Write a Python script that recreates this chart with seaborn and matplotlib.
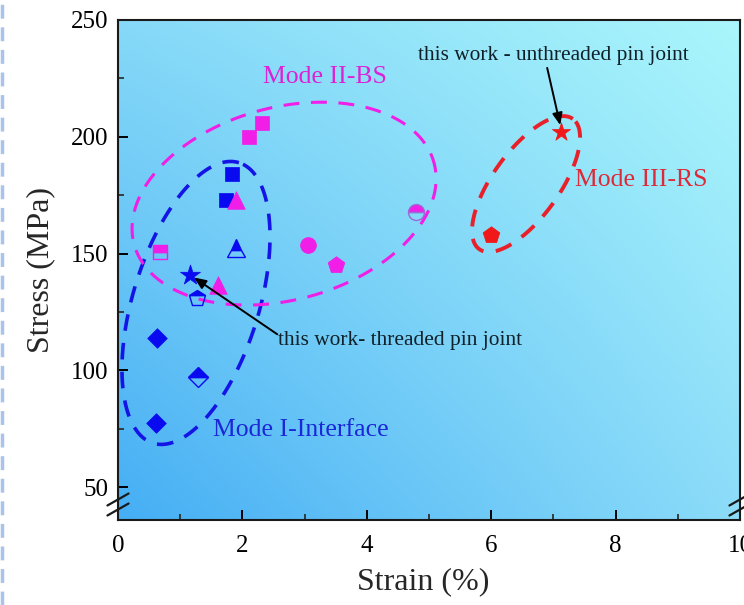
import numpy as np
import pandas as pd
import matplotlib
matplotlib.use("Agg")
import matplotlib.pyplot as plt
import seaborn as sns
from matplotlib.lines import Line2D

# ---------------- data ----------------
blue_sq_x = [1.84, 1.73]
blue_sq_y = [184, 173]
blue_dia_x = [0.63, 0.61]
blue_dia_y = [114, 77.7]
blue_dia_half_x = [1.29]
blue_dia_half_y = [97]
blue_tri_half_x = [1.89]
blue_tri_half_y = [152.3]
blue_pent_half_x = [1.27]
blue_pent_half_y = [131]
blue_star_x = [1.16]
blue_star_y = [140.7]

mag_sq_x = [2.10, 2.32]
mag_sq_y = [200, 206]
mag_sq_half_x = [0.68]
mag_sq_half_y = [150.6]
mag_tri_x = [1.90, 1.60]
mag_tri_y = [173, 136.4]
mag_circ_x = [3.05]
mag_circ_y = [153.6]
mag_circ_half_x = [4.79]
mag_circ_half_y = [167.7]
mag_pent_x = [3.50]
mag_pent_y = [145]

red_pent_x = [6.0]
red_pent_y = [157.8]
red_star_x = [7.12]
red_star_y = [202.2]

x_ticks = [0, 2, 4, 6, 8, 10]
y_ticks = [50, 100, 150, 200, 250]

BLUE = "#0a0af0"
MAG = "#f01ee6"
RED = "#f01818"

# ---------------- figure ----------------
sns.set_theme(style="ticks")
plt.rcParams["font.family"] = ["Liberation Serif", "DejaVu Serif"]

W, H = 744, 605
fig = plt.figure(figsize=(W / 100, H / 100), dpi=100)
fig.patch.set_facecolor("white")
L, R, T, B = 118, 740, 20, 520
ax = fig.add_axes([L / W, 1 - B / H, (R - L) / W, (B - T) / H])
XMIN, XMAX, YMIN, YMAX = 0, 10, 36, 250
ax.set_xlim(XMIN, XMAX)
ax.set_ylim(YMIN, YMAX)

# background gradient (bilinear between corner colours)
def hx(c):
    return np.array([int(c[i:i + 2], 16) / 255 for i in (1, 3, 5)])
bl, br, tl, tr = hx("#45aef4"), hx("#8cdcf9"), hx("#86d9f8"), hx("#aaf6fc")
n = 200
u = np.linspace(0, 1, n)[None, :, None]
v = np.linspace(1, 0, n)[:, None, None]
img = (bl * (1 - u) * (1 - v) + br * u * (1 - v) + tl * (1 - u) * v + tr * u * v)
ax.imshow(img, extent=[0, 1, 0, 1], transform=ax.transAxes, aspect="auto",
          zorder=0, interpolation="bilinear")

# pixel scale for ellipse drawing
sx = (R - L) / (XMAX - XMIN)
sy = (B - T) / (YMAX - YMIN)

def ellipse(cx, cy, a, b, ang, **kw):
    t = np.linspace(0, 2 * np.pi, 400)
    p = np.deg2rad(ang)
    dx = a * np.cos(t) * np.cos(p) - b * np.sin(t) * np.sin(p)
    dy = a * np.cos(t) * np.sin(p) + b * np.sin(t) * np.cos(p)
    ax.plot(cx + dx / sx, cy + dy / sy, zorder=2, solid_capstyle="butt",
            dash_capstyle="butt", **kw)

ellipse(1.254, 128.9, 146.7, 63.1, 73, color="#1414e6", lw=2.6, ls=(0, (4.6, 3.4)))
ellipse(2.67, 171.4, 155.4, 96.2, 15.3, color="#f01ee6", lw=2.2, ls=(2, (5.2, 3.8)))
ellipse(6.56, 179.8, 80.2, 33.2, 54.3, color="#e8202a", lw=2.8, ls=(1, (4.4, 3.2)))

# full markers via seaborn
def sc(xs, ys, m, s, c):
    sns.scatterplot(x=xs, y=ys, marker=m, s=s, color=c, edgecolor=c,
                    linewidth=0.5, ax=ax, zorder=4, legend=False)

sc(blue_sq_x, blue_sq_y, "s", 100, BLUE)
sc(blue_dia_x, blue_dia_y, "D", 100, BLUE)
sc(blue_star_x, blue_star_y, "*", 230, BLUE)
sc(mag_sq_x, mag_sq_y, "s", 105, MAG)
sc(mag_tri_x, mag_tri_y, "^", 160, MAG)
sc(mag_circ_x, mag_circ_y, "o", 130, MAG)
sc(mag_pent_x, mag_pent_y, "p", 160, MAG)
sc(red_pent_x, red_pent_y, "p", 160, RED)
sc(red_star_x, red_star_y, "*", 190, RED)

# half-filled markers
def half(xs, ys, m, ms, c, ec=None):
    ax.plot(xs, ys, ls="none", marker=m, ms=ms, fillstyle="top",
            markerfacecolor=c, markerfacecoloralt="none",
            markeredgecolor=ec or c, markeredgewidth=1.0, zorder=4)

half(blue_dia_half_x, blue_dia_half_y, "D", 10, BLUE)
half(blue_tri_half_x, blue_tri_half_y, "^", 12.5, BLUE)
half(blue_pent_half_x, blue_pent_half_y, "p", 12, BLUE)
half(mag_sq_half_x, mag_sq_half_y, "s", 10, MAG)
half(mag_circ_half_x, mag_circ_half_y, "o", 11.5, MAG, ec="#9a6ad8")

# annotations
TXT = "#102028"
ax.text(2.57, 113, "this work- threaded pin joint", fontsize=15.4, color=TXT,
        ha="left", va="center", zorder=5)
ax.annotate("", xy=(1.22, 139.8), xytext=(2.56, 115.5),
            arrowprops=dict(arrowstyle="-|>,head_length=0.6,head_width=0.25",
                            color="black", lw=1.4, shrinkA=0, shrinkB=0), zorder=5)
ax.text(7.0, 235, "this work - unthreaded pin joint", fontsize=15.4, color=TXT,
        ha="center", va="center", zorder=5)
ax.annotate("", xy=(7.11, 205), xytext=(6.90, 229.5),
            arrowprops=dict(arrowstyle="-|>,head_length=0.6,head_width=0.25",
                            color="black", lw=1.4, shrinkA=0, shrinkB=0), zorder=5)
ax.text(2.33, 225.6, "Mode II-BS", fontsize=18.5, color="#dc22d8",
        ha="left", va="center", zorder=5)
ax.text(1.53, 74.5, "Mode I-Interface", fontsize=18.5, color="#1a28d8",
        ha="left", va="center", zorder=5)
ax.text(7.35, 181.5, "Mode III-RS", fontsize=18.5, color="#dc2a38",
        ha="left", va="center", zorder=5)

# axes styling
ax.set_xticks(x_ticks)
ax.set_yticks(y_ticks)
ax.set_xticks([1, 3, 5, 7, 9], minor=True)
ax.set_yticks([75, 125, 175, 225], minor=True)
ax.tick_params(axis="both", which="major", direction="in", length=7, width=1.4,
               labelsize=18, colors="black", top=False, right=False)
ax.tick_params(axis="both", which="minor", direction="in", length=4, width=1.2,
               top=False, right=False)
ax.tick_params(axis="y", which="major", pad=7)
ax.tick_params(axis="x", which="major", pad=11)
for s in ax.spines.values():
    s.set_linewidth(1.5)
    s.set_color("#1a1a1a")
ax.set_xlabel("Strain (%)", fontsize=23)
ax.set_ylabel("Stress (MPa)", fontsize=23)
ax.xaxis.set_label_coords(0.49, -0.094)
ax.yaxis.set_label_coords(-0.101, 0.5)

# axis break marks
for xa in (0, 1):
    for yo in (0.041, 0.021):
        ax.plot([xa - 0.017, xa + 0.017], [yo - 0.012, yo + 0.012],
                transform=ax.transAxes, color="#1a1a1a", lw=1.6,
                clip_on=False, zorder=6)

# frame artefact at far left
fig.add_artist(Line2D([0.003, 0.003], [0, 1], transform=fig.transFigure,
                      color="#a9c3ec", lw=2.5, ls=(0, (4, 2.5))))

fig.savefig("out.png", dpi=100)
